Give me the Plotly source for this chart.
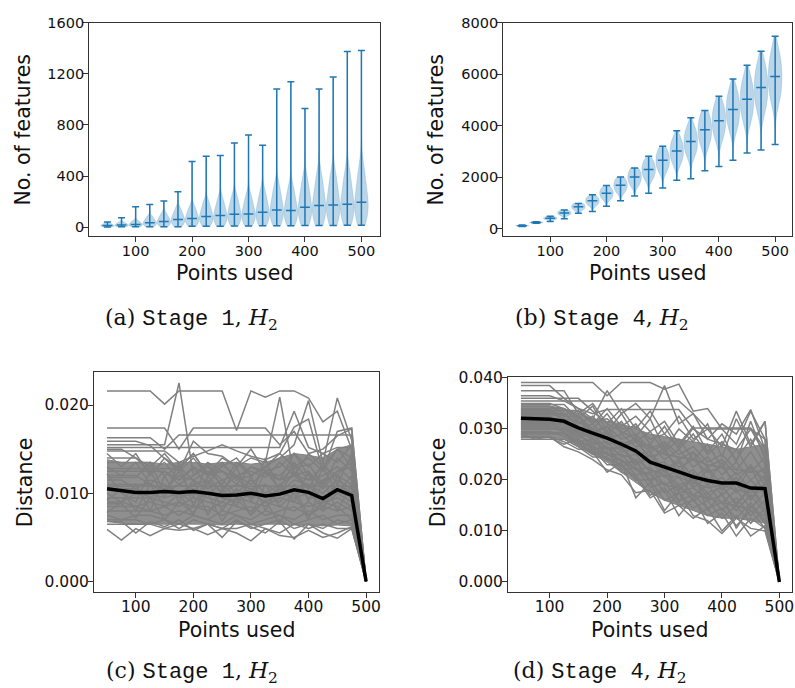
import plotly.graph_objects as go

# ---------------- data ----------------
positions = [50, 75, 100, 125, 150, 175, 200, 225, 250, 275, 300,
             325, 350, 375, 400, 425, 450, 475, 500]

# (a) Stage 1, H2 : number of features (violin summaries)
a_min = [3, 5, 5, 5, 5, 5, 8, 8, 8, 10, 10, 12, 12, 12, 14, 14, 14, 16, 16]
a_q10 = [7, 8, 10, 14, 18, 24, 27, 33, 36, 40, 41, 46, 52, 50, 60, 65, 67, 70, 75]
a_q25 = [10, 12, 15, 23, 30, 40, 45, 55, 60, 67, 68, 77, 88, 85, 102, 110, 114, 117, 127]
a_med = [15, 18, 23, 36, 46, 62, 69, 85, 93, 103, 105, 118, 136, 131, 157, 170, 175, 180, 196]
a_q75 = [22, 27, 35, 54, 69, 93, 104, 128, 140, 155, 158, 177, 204, 197, 236, 255, 263, 270, 294]
a_q90 = [30, 38, 50, 78, 100, 135, 150, 185, 205, 225, 230, 260, 300, 290, 345, 375, 385, 395, 430]
a_max = [41, 75, 160, 178, 206, 278, 515, 556, 561, 659, 721, 641, 1081, 1137, 929, 1081, 1174, 1374, 1382]

# (b) Stage 4, H2
b_min = [90, 210, 280, 383, 598, 663, 867, 1085, 1266, 1380, 1584, 1879, 1940, 2250, 2416, 2658, 2940, 3056, 3267]
b_q10 = [100, 215, 350, 520, 730, 920, 1170, 1440, 1710, 1960, 2270, 2580, 2890, 3290, 3580, 3950, 4290, 4680, 5040]
b_q25 = [108, 228, 380, 565, 790, 1000, 1270, 1560, 1850, 2120, 2450, 2780, 3120, 3550, 3870, 4270, 4630, 5050, 5440]
b_med = [115, 242, 407, 613, 855, 1085, 1380, 1687, 2006, 2297, 2658, 3014, 3383, 3843, 4192, 4628, 5020, 5483, 5902]
b_q75 = [122, 256, 435, 660, 920, 1170, 1490, 1820, 2160, 2470, 2860, 3240, 3640, 4130, 4510, 4980, 5400, 5900, 6350]
b_q90 = [130, 270, 465, 705, 980, 1250, 1590, 1940, 2310, 2640, 3060, 3470, 3890, 4410, 4820, 5320, 5780, 6300, 6780]
b_max = [140, 270, 483, 728, 982, 1315, 1672, 2006, 2351, 2811, 3195, 3797, 4304, 4587, 5135, 5810, 6340, 6885, 7463]

# (c) Stage 1, H2 : distance curves, values in units of 1e-3
c_lines = [
    [21.6, 21.6, 21.6, 21.6, 20.1, 21.6, 21.6, 21.6, 21.6, 17.1, 21.6, 20.9, 21.6, 21.6, 20.8, 18.1, 19.3, 15.0, 0],
    [15.5, 15.5, 15.5, 15.5, 15.5, 22.5, 12.0, 13.5, 12.5, 11.8, 13.0, 12.2, 11.5, 12.8, 13.3, 11.0, 12.5, 13.0, 0],
    [17.4, 17.4, 17.4, 17.4, 17.4, 15.0, 17.4, 17.4, 17.4, 17.4, 17.4, 17.4, 15.5, 17.0, 14.5, 15.0, 16.5, 17.3, 0],
    [16.3, 16.3, 16.3, 16.3, 15.0, 16.6, 16.6, 16.6, 16.6, 16.6, 16.6, 16.6, 16.6, 16.6, 16.6, 16.6, 16.6, 16.6, 0],
    [15.9, 15.9, 15.9, 15.4, 14.0, 12.5, 15.9, 14.5, 14.2, 13.0, 14.0, 13.5, 20.9, 12.0, 14.5, 13.0, 15.0, 14.0, 0],
    [15.2, 15.2, 15.2, 15.2, 15.2, 15.2, 15.2, 15.2, 15.2, 15.2, 15.2, 15.2, 15.2, 19.3, 15.2, 14.5, 15.2, 15.2, 0],
    [15.0, 15.0, 14.0, 13.0, 14.5, 12.5, 14.0, 12.0, 13.5, 11.5, 12.0, 13.0, 14.0, 15.5, 20.5, 13.5, 20.8, 16.0, 0],
    [14.8, 14.8, 14.8, 14.8, 14.8, 13.5, 14.2, 14.8, 15.5, 14.8, 14.2, 13.8, 14.5, 17.5, 18.4, 12.5, 17.0, 17.4, 0],
    [14.0, 14.0, 14.0, 12.5, 13.5, 11.5, 12.8, 11.0, 13.2, 12.0, 12.5, 11.8, 13.5, 12.0, 11.5, 13.0, 12.0, 14.0, 0],
    [13.5, 13.5, 13.5, 13.5, 12.0, 13.0, 11.5, 12.5, 11.0, 13.5, 12.0, 13.0, 11.5, 14.5, 12.0, 11.0, 14.0, 12.5, 0],
    [13.0, 12.0, 13.5, 11.0, 12.5, 11.5, 13.0, 12.0, 12.5, 11.0, 13.0, 12.5, 12.0, 13.5, 11.5, 12.0, 13.0, 11.5, 0],
    [12.5, 12.5, 12.5, 12.5, 12.5, 11.0, 12.0, 13.0, 11.5, 12.0, 11.0, 12.5, 11.5, 12.0, 12.5, 10.5, 12.5, 13.5, 0],
    [12.0, 12.0, 12.0, 11.0, 10.5, 12.0, 11.5, 10.5, 11.5, 10.0, 11.5, 10.0, 11.0, 12.0, 10.5, 11.5, 12.0, 11.0, 0],
    [11.5, 11.5, 10.5, 11.5, 11.0, 10.0, 11.0, 11.5, 10.0, 11.0, 10.5, 11.0, 10.0, 11.5, 11.0, 10.0, 11.5, 10.5, 0],
    [11.0, 11.0, 11.0, 11.0, 10.0, 11.0, 10.5, 10.0, 11.0, 9.5, 10.5, 9.5, 10.5, 10.0, 11.0, 9.0, 11.0, 10.0, 0],
    [10.5, 10.5, 10.5, 9.5, 10.5, 9.5, 10.0, 9.5, 9.0, 10.5, 9.5, 10.0, 9.0, 11.0, 9.5, 9.5, 10.5, 9.5, 0],
    [10.0, 9.0, 10.0, 10.0, 9.5, 10.0, 9.0, 10.0, 9.5, 9.0, 10.0, 9.0, 10.0, 9.5, 10.0, 8.5, 10.0, 9.0, 0],
    [9.5, 9.5, 9.5, 9.5, 9.0, 8.5, 9.5, 9.0, 8.5, 9.5, 9.0, 8.5, 9.5, 9.0, 8.5, 9.0, 9.5, 8.5, 0],
    [9.0, 9.0, 8.5, 9.0, 8.5, 9.0, 8.5, 8.0, 9.0, 8.5, 8.0, 9.0, 8.5, 8.0, 9.0, 8.0, 9.0, 8.0, 0],
    [8.5, 8.5, 8.5, 8.0, 8.5, 7.5, 8.5, 8.5, 7.5, 8.0, 8.5, 7.5, 8.0, 8.5, 7.5, 8.5, 8.0, 8.5, 0],
    [8.0, 8.0, 8.0, 8.0, 7.5, 8.0, 7.5, 7.0, 8.0, 7.5, 7.0, 8.0, 7.5, 7.0, 8.0, 7.0, 7.5, 7.5, 0],
    [7.5, 7.0, 7.5, 7.5, 7.0, 6.5, 7.5, 7.0, 6.5, 7.5, 6.5, 7.0, 7.5, 6.5, 7.0, 7.5, 6.5, 7.0, 0],
    [7.0, 7.0, 7.0, 6.5, 7.0, 6.0, 7.0, 6.5, 6.0, 7.0, 6.0, 6.5, 7.0, 6.0, 6.5, 6.0, 7.0, 6.5, 0],
    [6.5, 6.5, 6.5, 6.5, 6.0, 6.5, 6.0, 6.5, 6.0, 6.0, 6.5, 6.0, 5.5, 6.5, 6.0, 6.5, 6.0, 6.0, 0],
    [5.9, 4.7, 6.0, 5.2, 6.0, 5.8, 6.0, 5.3, 6.0, 5.5, 4.6, 6.0, 5.2, 5.0, 5.8, 5.0, 5.5, 6.2, 0],
    [6.8, 6.8, 5.5, 6.8, 6.2, 7.0, 5.8, 6.5, 5.0, 6.8, 6.2, 5.5, 6.8, 4.8, 6.5, 5.5, 4.9, 6.0, 0],
    [12.8, 12.8, 12.8, 12.8, 12.8, 12.8, 14.5, 12.0, 13.0, 14.0, 12.0, 13.0, 14.5, 13.0, 14.0, 12.5, 15.0, 13.0, 0],
    [14.5, 13.0, 14.5, 12.0, 14.0, 12.8, 14.5, 12.2, 14.0, 13.0, 15.0, 12.5, 13.0, 14.5, 13.0, 14.5, 13.5, 15.5, 0],
    [10.8, 10.8, 10.8, 10.8, 10.8, 10.8, 10.8, 10.8, 10.8, 10.8, 10.8, 10.8, 10.8, 10.8, 10.8, 10.8, 10.8, 10.8, 0],
    [9.2, 10.5, 8.0, 11.0, 8.5, 10.0, 7.5, 11.5, 8.0, 10.5, 7.5, 11.0, 8.5, 10.0, 7.0, 11.5, 8.0, 11.0, 0],
    [7.8, 9.0, 11.0, 8.0, 12.0, 9.0, 11.5, 7.5, 10.5, 8.5, 12.0, 8.0, 11.0, 9.0, 12.5, 8.0, 12.0, 9.5, 0],
    [12.2, 10.0, 9.0, 12.5, 9.5, 13.5, 8.5, 12.0, 10.0, 13.0, 9.0, 12.5, 10.5, 13.5, 9.0, 13.0, 10.0, 12.0, 0],
    [8.8, 8.8, 7.2, 9.5, 7.0, 9.0, 7.8, 10.0, 6.8, 9.5, 7.5, 9.2, 6.5, 10.5, 7.5, 9.0, 8.5, 7.0, 0],
    [11.8, 11.8, 11.8, 13.5, 10.0, 12.5, 9.5, 13.5, 10.5, 12.0, 9.5, 14.0, 10.0, 12.5, 10.5, 13.5, 11.0, 14.5, 0],
]
c_mean = [10.5, 10.3, 10.1, 10.1, 10.2, 10.1, 10.2, 10.0, 9.75, 9.8, 10.0, 9.7, 9.9, 10.4, 10.1, 9.4, 10.4, 9.75, 0]
# dense core of the (c) curve bundle (lower / upper edge), units of 1e-3
c_core_lo = [6.8, 6.6, 6.5, 6.5, 6.5, 6.5, 6.5, 6.5, 6.4, 6.5, 6.4, 6.5, 6.5, 6.4, 6.5, 6.3, 6.4, 6.3, 0]
c_core_hi = [13.8, 13.5, 13.5, 13.5, 13.3, 13.5, 13.5, 13.3, 13.5, 13.5, 13.3, 13.5, 14.0, 14.5, 14.3, 14.0, 15.0, 15.5, 0]

# (d) Stage 4, H2 : distance curves, values in units of 1e-3
d_lines = [
    [39.1, 39.1, 39.1, 39.1, 39.1, 39.1, 36.5, 39.1, 39.1, 39.1, 37.8, 38.8, 33.5, 34.0, 30.0, 27.0, 33.5, 28.0, 0],
    [38.5, 38.5, 38.5, 36.0, 34.0, 32.0, 37.5, 33.0, 35.0, 32.0, 38.5, 31.0, 33.0, 28.0, 31.0, 29.0, 33.8, 26.0, 0],
    [37.5, 37.5, 37.5, 37.5, 33.0, 35.0, 31.0, 34.0, 30.0, 33.5, 29.0, 32.5, 28.0, 30.0, 26.5, 33.5, 27.0, 31.5, 0],
    [36.5, 36.5, 36.5, 35.5, 35.5, 35.5, 35.5, 35.5, 35.5, 35.5, 35.5, 35.5, 33.0, 30.0, 30.0, 30.0, 30.0, 28.0, 0],
    [35.5, 35.5, 35.5, 35.5, 34.0, 33.0, 33.8, 33.8, 33.8, 33.8, 33.8, 33.8, 30.0, 28.0, 27.0, 26.0, 30.0, 25.0, 0],
    [35.0, 35.0, 35.0, 34.0, 32.5, 30.0, 33.0, 29.0, 31.0, 27.0, 30.5, 26.0, 29.0, 25.0, 27.5, 24.0, 28.0, 23.0, 0],
    [34.5, 34.5, 34.5, 33.0, 31.0, 32.5, 29.0, 31.5, 27.5, 29.5, 25.5, 28.0, 24.0, 27.0, 22.5, 26.0, 21.5, 24.5, 0],
    [34.0, 34.0, 34.0, 34.0, 31.5, 29.5, 30.5, 28.0, 29.0, 26.0, 27.5, 25.0, 26.5, 23.5, 25.0, 22.0, 25.5, 21.0, 0],
    [33.5, 33.5, 33.5, 32.0, 30.0, 31.0, 28.0, 29.0, 26.5, 27.0, 24.0, 26.0, 22.5, 24.5, 21.0, 23.5, 20.0, 22.5, 0],
    [33.0, 33.0, 33.0, 33.0, 30.5, 28.5, 29.5, 26.5, 27.5, 24.5, 25.5, 22.5, 24.0, 21.5, 22.5, 19.5, 23.0, 19.0, 0],
    [32.5, 32.5, 32.5, 31.0, 29.0, 30.0, 27.0, 27.5, 25.0, 25.5, 22.0, 24.0, 20.5, 22.5, 19.0, 21.5, 18.0, 21.0, 0],
    [32.0, 32.0, 32.0, 32.0, 30.0, 28.0, 28.5, 25.5, 26.0, 23.0, 23.5, 20.5, 22.0, 19.0, 20.5, 17.5, 20.0, 17.0, 0],
    [31.5, 31.5, 31.5, 30.5, 28.5, 29.0, 26.0, 26.5, 23.5, 24.0, 20.5, 22.0, 18.5, 20.5, 17.0, 19.5, 16.0, 19.5, 0],
    [31.0, 31.0, 31.0, 31.0, 29.0, 27.0, 27.5, 24.5, 25.0, 21.5, 22.0, 19.0, 20.0, 17.5, 18.5, 15.5, 18.5, 15.0, 0],
    [30.5, 30.5, 30.5, 29.5, 27.5, 28.0, 25.0, 25.0, 22.0, 22.5, 19.0, 20.5, 17.0, 19.0, 15.5, 18.0, 14.5, 17.5, 0],
    [30.0, 30.0, 30.0, 30.0, 28.0, 26.0, 26.5, 23.5, 23.5, 20.0, 21.0, 17.5, 18.5, 16.0, 17.0, 14.0, 17.0, 13.5, 0],
    [29.5, 29.5, 29.5, 28.5, 27.0, 27.0, 24.0, 24.0, 21.0, 21.5, 17.5, 19.0, 16.0, 17.5, 14.0, 16.5, 13.0, 16.0, 0],
    [29.0, 29.0, 29.0, 29.0, 27.0, 25.0, 25.5, 22.0, 22.5, 18.5, 19.5, 16.0, 17.0, 14.5, 15.5, 12.5, 15.5, 12.0, 0],
    [28.5, 28.5, 28.5, 27.5, 26.0, 26.0, 23.0, 23.0, 20.0, 20.0, 16.0, 17.5, 14.5, 16.0, 12.5, 15.0, 11.5, 14.5, 0],
    [28.0, 28.0, 28.0, 28.0, 26.5, 24.5, 24.5, 21.5, 21.0, 17.0, 18.5, 15.0, 16.0, 13.0, 14.5, 11.0, 14.0, 10.5, 0],
    [29.0, 28.0, 28.5, 26.5, 25.5, 24.0, 22.0, 21.0, 17.5, 18.0, 13.5, 15.0, 12.5, 14.5, 10.0, 13.0, 9.0, 11.0, 0],
    [31.8, 31.8, 30.5, 29.5, 27.0, 25.5, 21.5, 23.5, 16.5, 19.5, 14.0, 17.5, 13.0, 12.0, 9.5, 12.5, 10.5, 10.0, 0],
    [33.2, 33.2, 33.2, 32.0, 31.5, 30.0, 28.0, 26.5, 22.5, 20.0, 23.0, 15.5, 21.5, 14.0, 17.5, 10.5, 15.0, 11.5, 0],
    [30.8, 30.8, 30.8, 30.0, 29.5, 26.0, 24.0, 23.0, 20.5, 16.5, 18.0, 13.0, 16.5, 11.5, 13.5, 9.0, 12.5, 10.5, 0],
    [32.8, 32.8, 32.8, 32.8, 33.5, 31.0, 34.0, 30.5, 32.5, 29.5, 31.5, 27.0, 30.5, 25.5, 29.0, 23.5, 31.5, 24.0, 0],
    [34.8, 34.8, 34.8, 34.8, 32.0, 34.5, 29.5, 33.0, 28.5, 32.0, 26.0, 30.0, 27.5, 31.0, 24.5, 32.0, 26.5, 31.5, 0],
    [31.2, 31.2, 31.2, 30.0, 30.5, 28.5, 29.0, 27.0, 28.0, 25.5, 27.0, 24.0, 25.5, 22.5, 24.0, 21.0, 22.5, 20.0, 0],
    [32.2, 32.2, 32.2, 31.5, 29.5, 28.0, 26.5, 25.0, 24.0, 22.0, 21.0, 20.5, 19.5, 18.5, 19.0, 18.0, 17.5, 18.5, 0],
    [33.6, 33.6, 33.6, 33.6, 33.6, 31.5, 32.0, 30.0, 30.5, 28.0, 29.0, 26.5, 30.2, 30.2, 30.2, 30.2, 30.2, 26.0, 0],
    [30.2, 30.2, 30.2, 30.2, 28.5, 27.5, 26.0, 26.5, 23.0, 25.0, 21.5, 23.5, 19.0, 22.0, 18.0, 20.5, 16.5, 19.0, 0],
    [28.3, 28.3, 28.3, 27.0, 28.0, 25.0, 26.5, 22.5, 24.0, 19.5, 22.0, 18.0, 20.5, 16.5, 19.0, 15.0, 18.5, 14.0, 0],
    [36.0, 36.0, 36.0, 36.0, 36.0, 33.5, 31.0, 29.5, 28.0, 26.5, 25.0, 24.5, 24.0, 23.0, 22.5, 22.0, 21.5, 22.0, 0],
    [33.8, 33.8, 33.8, 32.5, 32.5, 29.0, 30.5, 26.0, 28.5, 23.5, 26.5, 21.0, 25.5, 19.5, 23.5, 18.0, 22.5, 17.0, 0],
    [29.3, 29.3, 29.3, 29.3, 27.5, 26.5, 25.0, 24.0, 22.0, 21.0, 19.0, 18.5, 17.0, 16.5, 15.5, 15.0, 14.0, 13.0, 0],
]
d_mean = [32.1, 32.0, 31.9, 31.5, 30.2, 29.2, 28.2, 27.0, 25.7, 23.5, 22.6, 21.6, 20.6, 19.9, 19.4, 19.4, 18.4, 18.3, 0]
# dense core of the (d) curve bundle (lower / upper edge), units of 1e-3
d_core_lo = [28.5, 28.5, 28.5, 28.0, 26.5, 25.0, 23.5, 21.5, 19.5, 17.5, 16.0, 15.0, 14.0, 13.0, 12.5, 12.5, 12.0, 11.5, 0]
d_core_hi = [34.5, 34.5, 34.5, 34.0, 33.0, 32.0, 31.5, 31.0, 30.0, 29.0, 28.5, 28.0, 27.5, 27.0, 26.5, 26.0, 26.5, 27.0, 0]

x_ticks = [100, 200, 300, 400, 500]
a_yticks = [0, 400, 800, 1200, 1600]
b_yticks = [0, 2000, 4000, 6000, 8000]
c_yticks = [0.0, 0.01, 0.02]
d_yticks = [0.0, 0.01, 0.02, 0.03, 0.04]
MILLI = 1e-3

captions = [
    ("(a)", "Stage 1", "2"),
    ("(b)", "Stage 4", "2"),
    ("(c)", "Stage 1", "2"),
    ("(d)", "Stage 4", "2"),
]

# ---------------- figure ----------------
W, H = 795, 688
BLUE = "#1f77b4"
BODY = "rgba(31,119,180,0.30)"
GRAY = "#808080"
CORE = "rgba(128,128,128,0.88)"
TXT = "#111111"
SANS = "DejaVu Sans"

fig = go.Figure()


def px_dom_x(a, b):
    return [a / W, b / W]


def px_dom_y(top, bottom):
    return [1 - bottom / H, 1 - top / H]


def add_violins(xa, ya, mins, q10, q25, med, q75, q90, maxs):
    for i, p in enumerate(positions):
        fig.add_trace(go.Violin(
            x0=p, y=[q10[i], q25[i], med[i], q75[i], q90[i]],
            xaxis=xa, yaxis=ya, width=24,
            spanmode="manual", span=[mins[i], maxs[i]],
            points=False, fillcolor=BODY,
            line=dict(color="rgba(31,119,180,0.35)", width=0.5),
            box=dict(visible=False), meanline=dict(visible=False),
            showlegend=False, hoverinfo="skip"))
    fig.add_trace(go.Scatter(
        x=positions, y=med, xaxis=xa, yaxis=ya, mode="markers",
        marker=dict(symbol="line-ew", size=7,
                    line=dict(color=BLUE, width=1.5), color=BLUE),
        error_y=dict(type="data", symmetric=False,
                     array=[maxs[i] - med[i] for i in range(len(med))],
                     arrayminus=[med[i] - mins[i] for i in range(len(med))],
                     color=BLUE, thickness=1.5, width=3.5),
        showlegend=False, hoverinfo="skip"))


def add_lines(xa, ya, lines, mean, core_lo, core_hi):
    fig.add_trace(go.Scatter(
        x=positions, y=[v * MILLI for v in core_lo], xaxis=xa, yaxis=ya,
        mode="lines", line=dict(color=GRAY, width=1),
        showlegend=False, hoverinfo="skip"))
    fig.add_trace(go.Scatter(
        x=positions, y=[v * MILLI for v in core_hi], xaxis=xa, yaxis=ya,
        mode="lines", line=dict(color=GRAY, width=1), fill="tonexty",
        fillcolor=CORE, showlegend=False, hoverinfo="skip"))
    for ln in lines:
        fig.add_trace(go.Scatter(
            x=positions, y=[v * MILLI for v in ln], xaxis=xa, yaxis=ya,
            mode="lines", line=dict(color=GRAY, width=1.5),
            showlegend=False, hoverinfo="skip"))
    fig.add_trace(go.Scatter(
        x=positions, y=[v * MILLI for v in mean], xaxis=xa, yaxis=ya,
        mode="lines", line=dict(color="black", width=3.5),
        showlegend=False, hoverinfo="skip"))


add_violins("x", "y", a_min, a_q10, a_q25, a_med, a_q75, a_q90, a_max)
add_violins("x2", "y2", b_min, b_q10, b_q25, b_med, b_q75, b_q90, b_max)
add_lines("x3", "y3", c_lines, c_mean, c_core_lo, c_core_hi)
add_lines("x4", "y4", d_lines, d_mean, d_core_lo, d_core_hi)

axis_common = dict(showline=True, mirror=True, linecolor="#333333", linewidth=1,
                   ticks="outside", ticklen=5, tickwidth=1, tickcolor="#333333",
                   showgrid=False, zeroline=False, ticklabelstandoff=-4,
                   tickfont=dict(family=SANS, size=14.5, color=TXT))
axis_common_b = dict(axis_common, tickfont=dict(family=SANS, size=15.5, color=TXT))

boxes = {
    "a": (89.3, 381.0, 14.7, 231.0),
    "b": (504.3, 794.0, 14.7, 231.0),
    "c": (94.3, 380.0, 368.3, 590.7),
    "d": (509.3, 794.3, 373.7, 590.7),
}

fig.update_layout(
    width=W, height=H, margin=dict(l=0, r=0, t=0, b=0),
    paper_bgcolor="white", plot_bgcolor="white", violinmode="overlay",
    showlegend=False,
    xaxis=dict(axis_common, domain=px_dom_x(*boxes["a"][:2]), anchor="y",
               range=[17.5, 533], tickvals=x_ticks),
    yaxis=dict(axis_common, domain=px_dom_y(*boxes["a"][2:]), anchor="x",
               range=[-70, 1600], tickvals=a_yticks),
    xaxis2=dict(axis_common, domain=px_dom_x(*boxes["b"][:2]), anchor="y2",
                range=[16, 530], tickvals=x_ticks),
    yaxis2=dict(axis_common, domain=px_dom_y(*boxes["b"][2:]), anchor="x2",
                range=[-295, 8000], tickvals=b_yticks),
    xaxis3=dict(axis_common_b, domain=px_dom_x(*boxes["c"][:2]), anchor="y3",
                range=[27.5, 522.5], tickvals=x_ticks),
    yaxis3=dict(axis_common_b, domain=px_dom_y(*boxes["c"][2:]), anchor="x3",
                range=[-0.00117, 0.02374], tickvals=c_yticks, tickformat=".3f"),
    xaxis4=dict(axis_common_b, domain=px_dom_x(*boxes["d"][:2]), anchor="y4",
                range=[27.5, 522.5], tickvals=x_ticks),
    yaxis4=dict(axis_common_b, domain=px_dom_y(*boxes["d"][2:]), anchor="x4",
                range=[-0.00194, 0.04012], tickvals=d_yticks, tickformat=".3f"),
)

annotations = []


def ann(text, x, y, size=20.5, angle=0, family=SANS):
    annotations.append(dict(text=text, x=x / W, y=1 - y / H, xref="paper", yref="paper",
                            xanchor="center", yanchor="middle", showarrow=False,
                            textangle=angle, font=dict(family=family, size=size, color=TXT)))


# axis titles
ann("Points used", 235, 268)
ann("Points used", 649, 268)
ann("Points used", 237, 629)
ann("Points used", 651, 629)
ann("No. of features", 23, 123, angle=-90)
ann("No. of features", 437, 123, angle=-90)
ann("Distance", 25, 480, angle=-90)
ann("Distance", 440, 480, angle=-90)

# sub-figure captions
cap_pos = [(192, 315), (604, 315), (192, 672), (602, 672)]
for (lab, stage, sub), (cx, cy) in zip(captions, cap_pos):
    txt = (lab + ' <span style="font-family:Liberation Mono">' + stage +
           '</span>, <i>H</i><sub>' + sub + '</sub>')
    ann(txt, cx, cy, size=22, family="DejaVu Serif")

fig.update_layout(annotations=annotations)

fig.write_html("out.html", config={"displayModeBar": False})
